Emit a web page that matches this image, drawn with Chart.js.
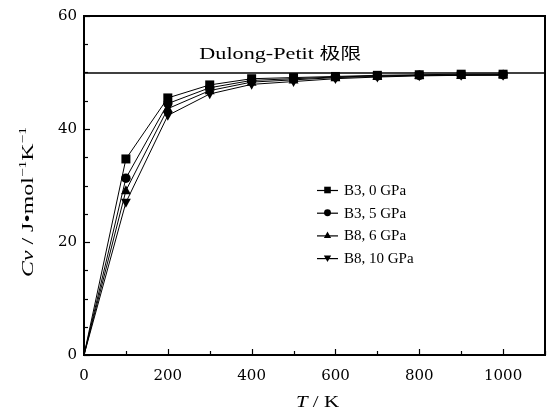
<!DOCTYPE html>
<html>
<head>
<meta charset="utf-8">
<script src="https://cdn.jsdelivr.net/npm/chart.js@4.4.0/dist/chart.umd.min.js"></script>
<style>
    html, body { margin: 0; padding: 0; background: #fff; }
    #wrap { width: 559px; height: 418px; }
</style>
</head>
<body>
<div id="wrap"><canvas id="cvChart" width="559" height="418"></canvas></div>
<script>
// Temperature (K)
const temps = [0, 100, 200, 300, 400, 500, 600, 700, 800, 900, 1000];
// Cv values (J mol^-1 K^-1)
const b3_0GPa = [0, 34.7, 45.5, 47.8, 48.9, 49.1, 49.3, 49.5, 49.6, 49.7, 49.7];
const b3_5GPa = [0, 31.3, 44.5, 47.3, 48.6, 48.9, 49.2, 49.4, 49.5, 49.6, 49.6];
const b8_6GPa = [0, 29.1, 43.6, 46.8, 48.3, 48.7, 49.1, 49.3, 49.5, 49.5, 49.6];
const b8_10GPa = [0, 27.0, 42.4, 46.2, 47.9, 48.4, 48.9, 49.2, 49.4, 49.5, 49.5];
const seriesLabels = ['B3, 0 GPa', 'B3, 5 GPa', 'B8, 6 GPa', 'B8, 10 GPa'];
const markers = ['rect', 'circle', 'triangle', 'invtriangle'];
// Dulong-Petit limit
const dulongPetit = 49.9;
const dulongRange = [0, 1100];

const serif = '"Liberation Serif", "Times New Roman", "Noto Sans CJK SC", serif';
const wideSerif = '"DejaVu Serif", "Liberation Serif", serif';

function toPoints(ys) {
    return temps.map((t, i) => ({ x: t, y: ys[i] }));
}

// marker shapes, drawn ourselves so the down-triangle is possible
function drawMarker(ctx, style, x, y, r) {
    ctx.beginPath();
    if (style === 'rect') {
        ctx.rect(x - r, y - r, 2 * r, 2 * r);
    } else if (style === 'circle') {
        ctx.arc(x, y, r * 1.05, 0, Math.PI * 2);
    } else if (style === 'triangle') {
        ctx.moveTo(x, y - r * 1.2);
        ctx.lineTo(x + r * 1.1, y + r * 0.8);
        ctx.lineTo(x - r * 1.1, y + r * 0.8);
        ctx.closePath();
    } else {
        ctx.moveTo(x, y + r * 1.2);
        ctx.lineTo(x + r * 1.1, y - r * 0.8);
        ctx.lineTo(x - r * 1.1, y - r * 0.8);
        ctx.closePath();
    }
    ctx.fill();
}

// draws runs of [text, font, dy] stretched to a given total width
function drawRuns(ctx, runs, x, y, targetW) {
    let w = 0;
    runs.forEach(r => { ctx.font = r[1]; w += ctx.measureText(r[0]).width; });
    const k = targetW / w;
    ctx.save();
    ctx.translate(x, y);
    ctx.scale(k, 1);
    let cx = 0;
    runs.forEach(r => {
        ctx.font = r[1];
        ctx.fillText(r[0], cx, r[2] || 0);
        cx += ctx.measureText(r[0]).width;
    });
    ctx.restore();
}

const decorPlugin = {
    id: 'decor',
    afterDatasetsDraw(chart) {
        const ctx = chart.ctx;
        const xs = chart.scales.x;
        const ys = chart.scales.y;

        // markers
        ctx.save();
        ctx.fillStyle = '#000';
        [b3_0GPa, b3_5GPa, b8_6GPa, b8_10GPa].forEach((vals, k) => {
            temps.forEach((t, i) => {
                if (t === 0) return;
                drawMarker(ctx, markers[k], xs.getPixelForValue(t), ys.getPixelForValue(vals[i]), 4.5);
            });
        });
        ctx.restore();
    },
    afterDraw(chart) {
        const ctx = chart.ctx;
        const a = chart.chartArea;
        const xs = chart.scales.x;
        const ys = chart.scales.y;
        ctx.save();
        ctx.strokeStyle = '#000';
        ctx.fillStyle = '#000';

        // frame
        ctx.lineWidth = 2;
        ctx.strokeRect(a.left, a.top, a.right - a.left, a.bottom - a.top);

        // inward ticks
        ctx.lineWidth = 1.2;
        xs.ticks.forEach(t => {
            const px = Math.round(xs.getPixelForValue(t.value)) + 0.5;
            const len = t.value % 200 === 0 ? 6 : 4;
            ctx.beginPath();
            ctx.moveTo(px, a.bottom);
            ctx.lineTo(px, a.bottom - len);
            ctx.stroke();
        });
        ys.ticks.forEach(t => {
            const py = Math.round(ys.getPixelForValue(t.value)) + 0.5;
            const len = t.value % 20 === 0 ? 6 : 4;
            ctx.beginPath();
            ctx.moveTo(a.left, py);
            ctx.lineTo(a.left + len, py);
            ctx.stroke();
        });

        // Dulong-Petit label
        ctx.textBaseline = 'alphabetic';
        ctx.textAlign = 'left';
        drawRuns(ctx, [
            ['Dulong-Petit ', '17px ' + serif],
            ['极限', '16px "Noto Sans CJK SC", sans-serif']
        ], xs.getPixelForValue(275), ys.getPixelForValue(52.4), 162);

        // legend
        ctx.font = '15px ' + serif;
        ctx.textBaseline = 'middle';
        seriesLabels.forEach((lab, k) => {
            const y = 190 + k * 22.7;
            ctx.lineWidth = 1.2;
            ctx.beginPath();
            ctx.moveTo(317, y + 0.5);
            ctx.lineTo(338, y + 0.5);
            ctx.stroke();
            drawMarker(ctx, markers[k], 327.5, y, 3.3);
            ctx.fillText(lab, 344, y + 1);
        });

        // x title
        ctx.textBaseline = 'alphabetic';
        drawRuns(ctx, [
            ['T', 'italic 17px ' + serif],
            [' / K', '17px ' + serif]
        ], 296, 407, 43);

        // y title (rotated)
        ctx.translate(33, 202);
        ctx.rotate(-Math.PI / 2);
        const f = '17px ' + serif;
        const sup = '11px ' + serif;
        drawRuns(ctx, [
            ['Cv', 'italic 17px ' + serif],
            [' / J\u2022mol', f],
            ['\u22121', sup, -7],
            ['K', f],
            ['\u22121', sup, -7]
        ], -75, 0, 150);
        ctx.restore();
    }
};

const lineSet = (label, ys) => ({
    label: label,
    data: toPoints(ys),
    borderColor: '#000',
    borderWidth: 1,
    pointRadius: 0,
    showLine: true,
    fill: false
});

new Chart(document.getElementById('cvChart'), {
    type: 'scatter',
    data: {
        datasets: [
            {
                label: 'Dulong-Petit',
                data: dulongRange.map(t => ({ x: t, y: dulongPetit })),
                borderColor: '#000',
                borderWidth: 1.6,
                pointRadius: 0,
                showLine: true
            },
            lineSet(seriesLabels[0], b3_0GPa),
            lineSet(seriesLabels[1], b3_5GPa),
            lineSet(seriesLabels[2], b8_6GPa),
            lineSet(seriesLabels[3], b8_10GPa)
        ]
    },
    options: {
        responsive: false,
        animation: false,
        layout: { padding: { top: 15, right: 14, left: 0, bottom: 0 } },
        plugins: {
            legend: { display: false },
            tooltip: { enabled: false }
        },
        scales: {
            x: {
                type: 'linear',
                min: 0,
                max: 1100,
                grid: { display: false, drawTicks: false },
                border: { display: false },
                ticks: {
                    stepSize: 100,
                    autoSkip: false,
                    maxRotation: 0,
                    padding: 12,
                    color: '#000',
                    font: { family: wideSerif, size: 15 },
                    callback: v => (v % 200 === 0 && v <= 1000 ? v : '')
                },
                afterFit: s => { s.height = 63; }
            },
            y: {
                min: 0,
                max: 60,
                grid: { display: false, drawTicks: false },
                border: { display: false },
                ticks: {
                    stepSize: 5,
                    autoSkip: false,
                    padding: 7,
                    color: '#000',
                    font: { family: wideSerif, size: 15 },
                    callback: v => (v % 20 === 0 ? v : '')
                },
                afterFit: s => { s.width = 84; }
            }
        }
    },
    plugins: [decorPlugin]
});
</script>
</body>
</html>
